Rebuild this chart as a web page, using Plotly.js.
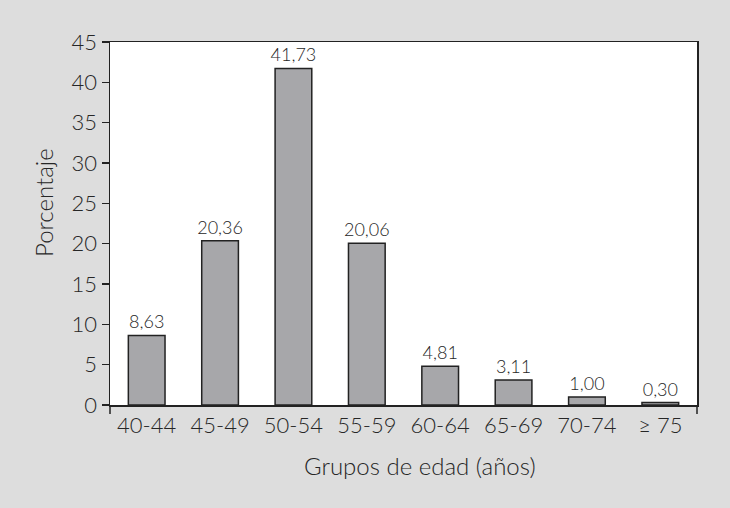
<!DOCTYPE html>
<html><head><meta charset="utf-8">
<script src="https://cdn.plot.ly/plotly-3.0.1.min.js"></script>
<style>html,body{margin:0;padding:0;background:#dddddd;}</style>
</head><body>
<div id="chart" style="width:730px;height:508px;"></div>
<script>
const categories = ["40-44","45-49","50-54","55-59","60-64","65-69","70-74","\u2265 75"];
const percentages = [8.63, 20.36, 41.73, 20.06, 4.81, 3.11, 1.00, 0.30];
const yTicks = [0,5,10,15,20,25,30,35,40,45];
const xTitle = 'Grupos de edad (años)';
const yTitle = 'Porcentaje';

const plotH = 508 - 42 - 103;
const plotW = 730 - 110 - 33;
const ext = 9 / plotH;
const FONT = 'Lato, Liberation Sans, Arial, sans-serif';
const TXT = '#262626';

const trace = {
  type: 'bar',
  x: categories,
  y: percentages,
  marker: {color: '#a7a7aa', line: {color: '#222222', width: 1.5}},
  texttemplate: '%{y:.2f}',
  textposition: 'outside',
  constraintext: 'none',
  textfont: {family: FONT, size: 18, color: TXT, weight: 300},
  cliponaxis: false,
  hoverinfo: 'none'
};

const layout = {
  width: 730, height: 508,
  margin: {l: 110, r: 33, t: 42, b: 103},
  paper_bgcolor: '#dddddd',
  plot_bgcolor: '#ffffff',
  separators: ',.',
  bargap: 0.5,
  showlegend: false,
  font: {family: FONT, color: TXT, weight: 300},
  xaxis: {
    type: 'category',
    showline: true, linecolor: '#222222', linewidth: 1.5, mirror: true,
    ticks: '', showgrid: false,
    tickfont: {family: FONT, size: 22, color: TXT, weight: 300}
  },
  yaxis: {
    range: [0, 45],
    tickvals: yTicks,
    ticktext: yTicks.map(String),
    showline: true, linecolor: '#222222', linewidth: 1.5, mirror: true,
    ticks: 'outside', ticklen: 7, tickwidth: 1.5, tickcolor: '#222222',
    showgrid: false, zeroline: false,
    tickfont: {family: FONT, size: 22, color: TXT, weight: 300}
  },
  annotations: [
    {text: xTitle, xref: 'paper', yref: 'paper', x: (420 - 110) / plotW, y: 0, yshift: -60,
     xanchor: 'center', yanchor: 'middle', showarrow: false,
     font: {family: FONT, size: 24, color: TXT, weight: 300}},
    {text: yTitle, xref: 'paper', yref: 'paper', x: 0, xshift: -67, y: (405 - 203) / plotH,
     xanchor: 'center', yanchor: 'middle', textangle: -90, showarrow: false,
     font: {family: FONT, size: 24, color: TXT, weight: 300}}
  ],
  shapes: [
    {type: 'line', xref: 'paper', yref: 'paper', x0: 0, x1: 0, y0: 0, y1: -ext, line: {color: '#222222', width: 1.5}},
    {type: 'line', xref: 'paper', yref: 'paper', x0: 1, x1: 1, y0: 0, y1: -ext, line: {color: '#222222', width: 1.5}}
  ]
};

Plotly.newPlot('chart', [trace], layout, {staticPlot: true});
</script>
</body></html>
